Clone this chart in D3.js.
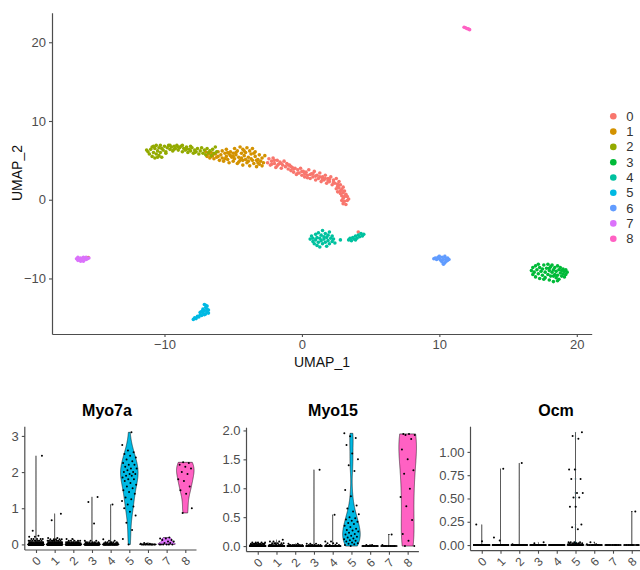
<!DOCTYPE html>
<html>
<head>
<meta charset="utf-8">
<script src="https://cdn.jsdelivr.net/npm/d3@7"></script>
<style>
body { margin: 0; background: #fff; }
svg { display: block; font-family: "Liberation Sans", Arial, sans-serif; }
</style>
</head>
<body>
<svg id="chart" width="640" height="570"></svg>
<script>
'use strict';

const clusters = ['0', '1', '2', '3', '4', '5', '6', '7', '8'];
const clusterColors = ['#F8766D', '#D39200', '#93AA00', '#00BA38', '#00C19F', '#00B9E3', '#619CFF', '#DB72FB', '#FF61C3'];

const umapTicks = [-10, 0, 10, 20];

// UMAP embedding, one array per cluster
const umap0 = [[-2.5,4.7],[-2.4,5.2],[-2.3,4.4],[-2.2,4.9],[-2.1,5.3],[-2.0,4.6],[-1.9,4.1],[-1.8,5.0],[-1.7,4.5],[-1.6,4.8],[-1.5,4.0],[-1.4,4.4],[-1.3,4.9],[-1.2,4.2],[-1.1,4.6],[-1.0,3.9],
  [-0.9,4.4],[-0.8,3.7],[-0.7,4.1],[-0.6,3.5],[-0.5,4.0],[-0.4,3.2],[-0.3,3.8],[-0.2,3.4],[-0.1,4.0],[0.0,3.1],[0.1,3.6],[0.2,2.9],[0.3,3.5],[0.4,3.1],[0.5,3.8],[0.6,2.7],[0.7,3.3],[0.8,2.9],[0.9,3.6],[1.0,2.5],
  [1.1,3.1],[1.2,2.7],[1.3,3.4],[1.4,2.3],[1.5,2.9],[1.6,2.5],[1.7,3.1],[1.8,2.1],[1.9,2.7],[2.0,2.3],[2.1,2.9],[2.2,1.9],[2.3,2.5],[2.4,2.1],[2.5,2.7],
  [2.6,1.7],[2.7,2.3],[2.5,1.4],[2.8,1.9],[2.9,1.3],[2.6,1.0],[3.0,1.6],[2.8,0.8],[3.1,1.1],[2.9,0.5],[3.2,0.7],[3.0,0.2],[3.3,0.4],[2.9,-0.1],[3.1,-0.2],[3.3,-0.1],[3.0,-0.5],[3.2,-0.6],[3.4,0.1],
  [-2.0,5.0],[-1.5,4.6],[-0.8,4.2],[-0.3,3.4],[0.2,3.3],[0.6,3.2],[1.0,3.0],[1.5,2.6],[2.0,2.6],[2.3,2.2],[2.7,1.5],[3.0,0.9],[-1.8,4.3],[-0.6,3.9],[0.4,2.8],[1.3,2.9],[1.9,2.4],[2.8,1.1],
  [-2.2,4.5],[-1.0,4.4],[0.0,3.6],[0.8,3.3],[1.7,2.7],[2.6,2.0],[3.1,0.4],[4.1,-4.1]];
const umap1 = [[-7.0,6.1],[-6.9,5.5],[-6.8,5.8],[-6.7,5.3],[-6.6,6.0],[-6.5,5.6],[-6.4,5.2],[-6.3,5.8],[-6.2,5.4],[-6.1,6.1],[-6.0,5.0],
  [-5.9,5.7],[-5.8,5.3],[-5.8,6.2],[-5.7,4.9],[-5.6,5.9],[-5.5,5.5],[-5.5,6.4],[-5.4,5.1],[-5.3,5.8],[-5.3,4.7],[-5.2,6.1],[-5.1,5.4],[-5.0,5.9],[-5.0,4.9],
  [-4.9,6.5],[-4.9,5.2],[-4.8,5.7],[-4.7,4.6],[-4.7,6.2],[-4.6,5.4],[-4.5,6.7],[-4.5,5.0],[-4.4,5.9],[-4.3,4.4],[-4.3,6.4],[-4.2,5.6],[-4.1,5.1],[-4.1,6.0],[-4.0,4.7],[-4.0,6.6],
  [-3.9,5.4],[-3.8,6.2],[-3.8,4.3],[-3.7,5.8],[-3.6,5.0],[-3.6,6.5],[-3.5,4.6],[-3.4,5.5],[-3.4,6.1],[-3.3,4.2],[-3.2,5.1],[-3.1,5.7],[-3.1,4.5],[-3.0,4.9],[-2.9,5.3],[-2.9,4.3],[-2.8,4.7],
  [-6.1,5.5],[-5.6,5.2],[-5.2,5.6],[-4.8,6.0],[-4.4,5.3],[-4.2,6.2],[-3.9,4.9],[-3.5,5.9],[-3.3,5.0],[-4.6,4.8],[-5.4,6.0],[-6.6,5.5],[-2.7,5.6],
  [-4.3,5.0],[-3.7,5.2],[-5.0,5.5],[-3.2,4.7],[-15.55,-7.35]];
const umap2 = [[-11.2,6.1],[-11.1,5.8],[-11.0,6.4],[-10.9,5.5],[-10.9,6.7],[-10.8,6.0],[-10.7,5.3],[-10.7,6.5],[-10.6,5.8],[-10.6,6.9],[-10.5,6.2],[-10.4,5.6],[-10.4,6.6],[-10.3,6.0],[-10.3,6.9],[-10.2,5.4],[-10.1,6.3],[-10.0,6.8],[-9.9,6.1],[-9.8,6.6],
  [-9.7,6.9],[-9.6,6.4],[-9.5,6.7],[-9.4,6.2],[-9.3,6.8],[-9.2,6.5],[-9.1,6.9],[-9.0,6.3],[-8.9,6.6],[-8.8,6.8],[-8.7,6.1],[-8.6,6.5],[-8.5,6.3],[-8.4,6.7],[-8.3,6.0],[-8.2,6.4],[-8.1,6.2],[-8.0,6.6],[-7.9,5.9],[-7.8,6.3],[-7.7,6.1],[-7.6,6.5],[-7.5,5.8],[-7.4,6.2],
  [-7.3,6.6],[-7.2,5.9],[-7.1,6.3],[-7.0,5.7],[-6.9,6.5],[-6.8,6.0],[-6.7,6.2],[-6.6,5.6],[-6.5,6.4],[-6.4,5.9],[-6.3,6.7],[-6.2,6.1],
  [-11.3,6.3],[-10.8,6.8],[-10.5,5.4],[-10.2,6.5],[-9.9,5.9],[-9.6,6.9],[-9.3,6.4],[-9.0,6.7],[-8.7,6.9],[-8.4,6.4],[-8.1,6.8],[-7.8,6.0]];
const umap3 = [[16.7,-9.0],[16.8,-8.6],[16.8,-9.5],[16.9,-9.2],[17.0,-8.4],[17.0,-9.8],[17.1,-8.9],[17.2,-9.4],[17.3,-8.6],[17.3,-10.0],[17.4,-9.1],[17.5,-8.8],[17.5,-9.6],[17.6,-8.3],[17.7,-9.2],[17.7,-9.9],[17.8,-8.7],[17.9,-9.5],[17.9,-8.2],[18.0,-9.0],[18.0,-10.2],[18.1,-8.5],[18.1,-9.7],[18.2,-9.2],[18.2,-8.3],[18.3,-8.9],[18.3,-10.4],[18.4,-9.5],[18.4,-8.6],[18.5,-9.9],[18.5,-9.1],[18.6,-8.4],[18.6,-9.6],[18.7,-8.9],[18.7,-10.1],[18.8,-9.3],[18.8,-8.6],[18.9,-9.7],[18.9,-9.0],[19.0,-8.8],[19.0,-9.4],[19.1,-9.8],[19.1,-9.1],[19.2,-9.5],[19.3,-9.2],[17.2,-8.2],[18.0,-8.7],[18.6,-10.3],[17.6,-10.1],[18.3,-9.7],[19.2,-8.9]];
const umap4 = [[0.6,-5.0],[0.7,-4.6],[0.8,-5.3],[0.8,-4.9],[0.9,-5.6],[1.0,-4.4],[1.0,-5.1],[1.1,-4.8],[1.1,-5.8],[1.2,-4.2],[1.2,-5.4],[1.3,-4.9],[1.3,-6.0],[1.4,-4.5],[1.4,-5.2],[1.5,-3.9],[1.5,-5.6],[1.6,-4.7],[1.6,-5.0],[1.7,-4.3],[1.7,-5.4],[1.8,-4.8],[1.8,-5.9],[1.9,-4.5],[1.9,-5.2],[2.0,-4.1],[2.0,-5.6],[2.1,-4.9],[2.2,-5.3],[2.2,-4.6],[2.3,-5.0],[2.4,-5.5],
  [2.8,-5.1],
  [3.4,-5.1],[3.5,-4.9],[3.6,-5.2],[3.7,-4.8],[3.8,-5.0],[3.9,-4.6],[4.0,-4.9],[4.1,-4.5],[4.2,-4.7],[4.3,-4.3],[4.4,-4.6],[4.5,-4.4],[3.9,-5.1]];
const umap5 = [[-7.9,-15.2],[-7.8,-15.0],[-7.7,-15.1],[-7.6,-14.8],[-7.5,-14.9],[-7.4,-14.6],[-7.3,-14.7],[-7.2,-14.4],[-7.3,-14.2],[-7.2,-13.9],[-7.1,-14.1],[-7.0,-14.5],[-7.0,-13.7],[-6.9,-14.2],[-6.9,-13.5],[-6.8,-14.0],[-7.1,-13.3],[-7.0,-13.4],[-6.8,-14.4],[-7.1,-14.6],[-7.4,-14.3],[-6.9,-13.9]];
const umap6 = [[9.6,-7.5],[9.7,-7.4],[9.8,-7.6],[9.9,-7.3],[10.0,-7.5],[10.1,-7.7],[10.2,-7.3],[10.2,-7.9],[10.3,-7.6],[10.4,-7.2],[10.4,-8.0],[10.5,-7.5],[10.5,-7.8],[10.6,-7.4],[10.6,-7.7],[10.7,-7.6],[10.3,-8.2],[10.0,-7.2]];
const umap7 = [[-16.4,-7.5],[-16.3,-7.3],[-16.3,-7.7],[-16.2,-7.5],[-16.1,-7.8],[-16.1,-7.4],[-16.0,-7.6],[-15.9,-7.3],[-15.9,-7.8],[-15.8,-7.5],[-15.7,-7.6],[-15.7,-7.3],[-15.6,-7.5],[-15.5,-7.4]];
const umap8 = [[11.8,21.9],[11.9,21.85],[12.0,21.75],[12.1,21.7],[12.2,21.6]];
const umapClusters = [umap0, umap1, umap2, umap3, umap4, umap5, umap6, umap7, umap8];

// expression per cluster as [value, number of cells]
const myo7a = [
  [[0,150],[0.03,15],[0.06,12],[0.1,8],[0.15,5],[0.21,2],[0.24,1],[0.38,1],[2.45,1]],
  [[0,130],[0.03,18],[0.06,14],[0.1,9],[0.14,5],[0.18,2],[0.67,1],[0.85,1]],
  [[0,120],[0.03,12],[0.06,10],[0.1,5],[0.15,2]],
  [[0,70],[0.03,8],[0.06,6],[0.1,3],[0.58,1],[1.17,1],[1.31,1]],
  [[0,45],[0.03,6],[0.06,5],[0.1,2],[0.14,1],[1.1,1]],
  [[0,1],[0.15,1],[0.4,1],[0.6,1],[0.8,1],[0.9,1],[1.0,1],[1.05,1],[1.1,1],[1.2,1],[1.25,1],[1.3,1],[1.4,1],[1.45,1],[1.5,1],[1.55,1],[1.6,1],[1.65,1],[1.7,1],[1.75,1],[1.8,2],[1.85,1],[1.9,2],[1.95,2],[2.0,2],[2.05,1],[2.1,2],[2.15,1],[2.2,2],[2.25,1],[2.3,1],[2.35,1],[2.4,1],[2.45,1],[2.5,1],[2.55,1],[2.6,1],[2.75,1],[3.1,1]],
  [[0,14],[0.02,3],[0.04,1]],
  [[0,6],[0.04,2],[0.08,2],[0.12,2],[0.16,2],[0.19,1]],
  [[0.87,1],[1.0,1],[1.4,1],[1.5,1],[1.6,1],[1.75,1],[1.8,1],[1.95,1],[2.0,1],[2.1,1],[2.15,1],[2.2,1],[2.25,1],[2.27,1]]
];
const myo15 = [
  [[0,170],[0.02,15],[0.04,10],[0.06,5]],
  [[0,160],[0.02,10],[0.05,6],[0.08,3],[0.11,1]],
  [[0,140],[0.02,8],[0.04,2]],
  [[0,80],[0.02,6],[0.04,3],[1.32,1]],
  [[0,50],[0.02,4],[0.05,3],[0.08,2],[0.54,1]],
  [[0,1],[0.02,1],[0.03,1],[0.04,1],[0.05,1],[0.06,1],[0.08,1],[0.09,1],[0.1,1],[0.12,1],[0.13,1],[0.15,1],[0.16,1],[0.18,1],[0.2,1],[0.21,1],[0.23,1],[0.25,1],[0.27,1],[0.28,1],[0.3,1],[0.33,1],[0.35,1],[0.38,1],[0.4,1],[0.42,1],[0.44,1],[0.46,1],[0.48,1],[0.5,1],[0.55,1],[0.6,1],[0.65,1],[0.7,1],[0.86,1],[0.97,1],[1.3,1],[1.4,1],[1.5,1],[1.6,1],[1.75,1],[1.87,1],[1.9,1],[1.95,1]],
  [[0,16],[0.02,2]],
  [[0,13],[0.02,1],[0.2,1]],
  [[0,2],[0.09,1],[0.21,1],[0.45,1],[0.69,1],[0.85,1],[0.99,1],[1.25,1],[1.31,1],[1.5,1],[1.67,1],[1.85,1],[1.92,2],[1.94,2]]
];
const ocm = [
  [[0,195],[0.04,1],[0.22,1]],
  [[0,175],[0.05,1],[0.08,1],[0.82,1]],
  [[0,148],[0.01,1],[0.88,1]],
  [[0,88],[0.02,1],[0.03,1]],
  [[0,60]],
  [[0,60],[0.01,8],[0.02,6],[0.03,4],[0.17,1],[0.19,1],[0.22,1],[0.41,2],[0.51,2],[0.56,2],[0.71,2],[0.81,2],[1.14,1],[1.17,1],[1.21,1]],
  [[0,15],[0.01,2],[0.03,1]],
  [[0,15]],
  [[0,12],[0.36,1]]
];

const myo7aTicks = [0, 1, 2, 3];
const myo15Ticks = [0, 0.5, 1, 1.5, 2];
const ocmTicks = [0, 0.25, 0.5, 0.75, 1];

const svg = d3.select('#chart');
const axisColor = '#4d4d4d';

// ---------- UMAP scatter ----------
function padded(ext) {
    const pad = (ext[1] - ext[0]) * 0.05;
    return [ext[0] - pad, ext[1] + pad];
}
const allPts = umapClusters.flat();
const x = d3.scaleLinear().domain(padded(d3.extent(allPts, d => d[0]))).range([52, 591.7]);
const y = d3.scaleLinear().domain(padded(d3.extent(allPts, d => d[1]))).range([334, 12.7]);

const umap = svg.append('g');
umapClusters.forEach(function (pts, i) {
    umap.append('g').selectAll('circle')
        .data(pts)
        .enter().append('circle')
        .attr('cx', d => x(d[0]))
        .attr('cy', d => y(d[1]))
        .attr('r', 1.8)
        .style('fill', clusterColors[i]);
});

function styleAxis(g) {
    g.select('.domain').attr('stroke', axisColor).attr('stroke-width', 1.2);
    g.selectAll('.tick line').attr('stroke', axisColor).attr('stroke-width', 1.1);
    g.selectAll('.tick text').attr('fill', axisColor).style('font-size', '13px');
}

svg.append('g')
    .attr('transform', 'translate(0,334)')
    .call(d3.axisBottom(x).tickValues(umapTicks).tickSize(3).tickSizeOuter(0).tickPadding(3))
    .call(styleAxis);
svg.append('g')
    .attr('transform', 'translate(52,0)')
    .call(d3.axisLeft(y).tickValues(umapTicks).tickSize(3).tickSizeOuter(0).tickPadding(3))
    .call(styleAxis);

svg.append('text')
    .attr('x', 322).attr('y', 367)
    .attr('text-anchor', 'middle')
    .style('font-size', '14px').style('fill', '#111')
    .text('UMAP_1');
svg.append('text')
    .attr('transform', 'translate(22,173) rotate(-90)')
    .attr('text-anchor', 'middle')
    .style('font-size', '14px').style('fill', '#111')
    .text('UMAP_2');

// legend
const legend = svg.append('g').selectAll('g')
    .data(clusters)
    .enter().append('g')
    .attr('transform', (d, i) => 'translate(613.3,' + (116.3 + i * 15.3) + ')');
legend.append('circle').attr('r', 3.3).style('fill', (d, i) => clusterColors[i]);
legend.append('text')
    .attr('x', 13).attr('dy', '0.35em')
    .style('font-size', '13px').style('fill', '#333')
    .text(d => d);

// ---------- violin plots ----------
function expand(groups) {
    const v = [];
    groups.forEach(g => { for (let k = 0; k < g[1]; k++) v.push(g[0]); });
    return v;
}

// bw.nrd0; a zero IQR falls back to a tiny width like Seurat's added noise
function nrd0(v) {
    const s = v.slice().sort(d3.ascending);
    const sd = d3.deviation(s) || 0;
    const iqr = d3.quantileSorted(s, 0.75) - d3.quantileSorted(s, 0.25);
    let lo = Math.min(sd, iqr / 1.34);
    if (!lo) lo = 1e-5;
    return 0.9 * lo * Math.pow(s.length, -0.2);
}

function violinShape(groups) {
    const v = expand(groups);
    const lo = d3.min(v), hi = d3.max(v);
    if (hi - lo < 1e-9) return [[lo, 1], [lo + 1e-6, 0]];
    const bw = nrd0(v);
    const n = v.length;
    const grid = d3.range(512).map(i => lo + (hi - lo) * i / 511);
    const dens = grid.map(t => {
        let s = 0;
        groups.forEach(g => {
            const u = (t - g[0]) / bw;
            s += g[1] * Math.exp(-0.5 * u * u);
        });
        return s / (n * bw * Math.sqrt(2 * Math.PI));
    });
    const m = d3.max(dens);
    return grid.map((t, i) => [t, dens[i] / m]);
}

const panels = [
    {gene: 'Myo7a', data: myo7a, ticks: myo7aTicks, fmt: d3.format('d'), x0: 24.8, x1: 196.5, top: 426.7, bottom: 550, titleX: 107},
    {gene: 'Myo15', data: myo15, ticks: myo15Ticks, fmt: d3.format('.1f'), x0: 246.5, x1: 418.9, top: 427.7, bottom: 551.7, titleX: 333},
    {gene: 'Ocm', data: ocm, ticks: ocmTicks, fmt: d3.format('.2f'), x0: 470.5, x1: 643, top: 426.7, bottom: 550.7, titleX: 556}
];

panels.forEach(function (p) {
    const g = svg.append('g');
    const vx = d3.scalePoint().domain(clusters).range([p.x0, p.x1]).padding(0.6);
    const vmax = d3.max(p.data, c => d3.max(c, d => d[0]));
    const vy = d3.scaleLinear().domain(padded([0, vmax])).range([p.bottom, p.top]);
    const half = vx.step() * 0.47;

    p.data.forEach(function (groups, ci) {
        const shape = violinShape(groups);
        const cx = vx(clusters[ci]);
        const area = d3.area()
            .y(d => vy(d[0]))
            .x0(d => cx - d[1] * half)
            .x1(d => cx + d[1] * half);
        g.append('path')
            .datum(shape)
            .attr('d', area)
            .style('fill', clusterColors[ci])
            .style('stroke', '#000')
            .style('stroke-width', 0.5);
    });

    p.data.forEach(function (groups, ci) {
        const cx = vx(clusters[ci]);
        const cells = expand(groups);
        g.append('g').selectAll('circle')
            .data(cells)
            .enter().append('circle')
            .attr('cx', (d, i) => cx + (((i * 0.618034 + ci * 0.29) % 1) - 0.5) * 0.8 * vx.step())
            .attr('cy', d => vy(d))
            .attr('r', 1)
            .style('fill', '#000');
    });

    const xa = g.append('g')
        .attr('transform', 'translate(0,' + p.bottom + ')')
        .call(d3.axisBottom(vx).tickSize(3).tickSizeOuter(0))
        .call(styleAxis);
    xa.select('.domain').attr('d', 'M' + p.x0 + ',0H' + p.x1);
    xa.selectAll('.tick text')
        .attr('y', 0).attr('dy', null)
        .style('font-size', '12px')
        .attr('transform', 'translate(0,11) rotate(-45)')
        .attr('text-anchor', 'middle')
        .attr('dominant-baseline', 'central');

    const ya = g.append('g')
        .attr('transform', 'translate(' + p.x0 + ',0)')
        .call(d3.axisLeft(vy).tickValues(p.ticks).tickFormat(p.fmt).tickSize(3).tickSizeOuter(0).tickPadding(3))
        .call(styleAxis);
    ya.select('.domain').attr('d', 'M0,' + p.bottom + 'V' + p.top);

    g.append('text')
        .attr('x', p.titleX)
        .attr('y', 416)
        .attr('text-anchor', 'middle')
        .style('font-size', '16px').style('font-weight', 'bold').style('fill', '#000')
        .text(p.gene);
});
</script>
</body>
</html>
